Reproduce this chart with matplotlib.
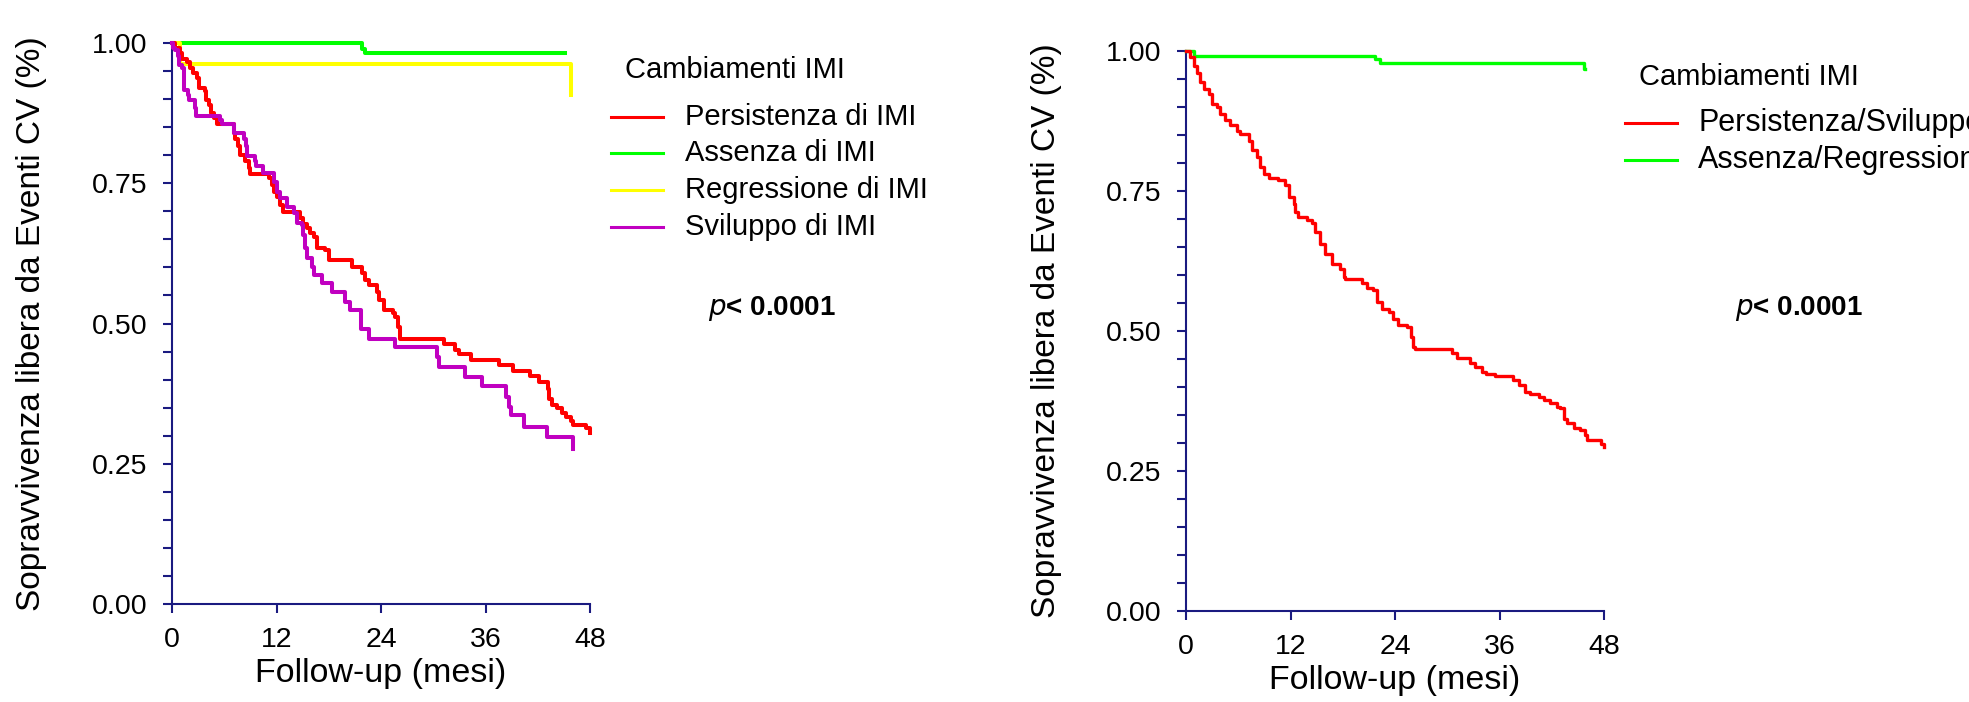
import matplotlib
matplotlib.use("Agg")
import matplotlib.pyplot as plt
from matplotlib.lines import Line2D
from matplotlib.ticker import MultipleLocator

plt.rcParams['font.family'] = ['Liberation Sans', 'DejaVu Sans']

# ---------------- data (left panel: 4 groups) ----------------
persist_t = [0, 0.38, 0.96, 1.15, 1.72, 2.03, 2.41, 2.87, 3.06, 3.83, 3.9, 4.21, 4.48, 4.78, 5.2,
             7.08, 7.27, 7.54, 7.85, 8.42, 8.80, 8.99, 11.1, 11.5, 11.7, 12.1, 12.4, 12.7,
             14.7, 15.1, 15.5, 15.9, 16.3, 16.6, 17.6, 18.0, 20.7, 21.8, 22.2, 22.6, 23.5,
             23.8, 24.3, 25.4, 25.6, 26.0, 26.2, 31.2, 32.5, 32.9, 34.3, 37.5, 39.2, 41.1,
             42.1, 43.2, 43.3, 43.6, 44.2, 44.8, 45.3, 45.8, 46.0, 47.5, 48.0]
persist_s = [1.0, 0.991, 0.982, 0.971, 0.966, 0.956, 0.947, 0.938, 0.920, 0.914, 0.899, 0.890, 0.875, 0.867, 0.855,
             0.840, 0.828, 0.816, 0.801, 0.789, 0.777, 0.767, 0.759, 0.747, 0.735, 0.726, 0.712, 0.698,
             0.688, 0.678, 0.670, 0.661, 0.654, 0.634, 0.631, 0.613, 0.601, 0.590, 0.577, 0.569, 0.557,
             0.542, 0.524, 0.518, 0.512, 0.494, 0.473, 0.464, 0.453, 0.446, 0.435, 0.426, 0.416, 0.406,
             0.396, 0.384, 0.366, 0.355, 0.349, 0.340, 0.334, 0.327, 0.319, 0.313, 0.304]

absent_t = [0, 21.8, 22.2, 45.1]
absent_s = [1.0, 0.990, 0.982, 0.982]

regress_t = [0, 0.95, 45.8, 45.85]
regress_s = [1.0, 0.963, 0.908, 0.908]

develop_t = [0, 0.1, 0.38, 0.65, 0.77, 1.15, 1.34, 1.42, 1.80, 1.91, 2.68, 2.75, 5.55, 5.74, 7.08, 7.15,
             8.23, 8.53, 8.61, 9.57, 9.68, 10.5, 11.7, 12.0, 12.4, 13.2, 14.05, 14.35, 14.9, 15.1,
             15.3, 15.5, 16.1, 16.3, 17.2, 18.4, 19.9, 20.4, 21.7, 22.6, 25.6, 30.4, 30.7, 33.7,
             35.6, 38.3, 38.7, 38.9, 40.4, 43.1, 46.0]
develop_s = [1.0, 0.991, 0.988, 0.976, 0.961, 0.955, 0.940, 0.916, 0.908, 0.899, 0.884, 0.869, 0.863, 0.856, 0.848, 0.840,
             0.828, 0.816, 0.798, 0.789, 0.780, 0.768, 0.753, 0.735, 0.723, 0.708, 0.697, 0.679, 0.676, 0.658,
             0.634, 0.616, 0.601, 0.587, 0.572, 0.557, 0.539, 0.524, 0.491, 0.473, 0.459, 0.441, 0.423, 0.405,
             0.388, 0.369, 0.351, 0.337, 0.316, 0.298, 0.277]

# ---------------- data (right panel: 2 groups) ----------------
ps_t = [0, 0.5, 0.88, 1.26, 1.65, 2.03, 2.6, 2.98, 3.55, 3.94, 4.5, 5.1, 5.85, 6.2, 7.2, 7.6, 8.1,
        8.5, 8.9, 9.5, 10.6, 11.4, 11.8, 12.4, 12.5, 12.9, 13.9, 14.45, 14.85, 15.4, 16.0, 16.8,
        17.7, 18.1, 18.3, 20.2, 20.8, 21.5, 21.9, 22.5, 23.3, 23.8, 24.4, 25.4, 25.8, 26.1, 26.3,
        30.5, 31.1, 32.6, 33.2, 34.0, 34.4, 35.5, 37.6, 38.2, 38.9, 39.5, 40.5, 41.1, 41.8, 42.6,
        43.0, 43.35, 43.7, 44.5, 45.3, 45.8, 46.0, 47.6, 48.0]
ps_s = [1.0, 0.989, 0.974, 0.960, 0.945, 0.933, 0.924, 0.906, 0.900, 0.888, 0.876, 0.867, 0.858, 0.852, 0.840, 0.823, 0.811,
        0.793, 0.781, 0.774, 0.769, 0.760, 0.739, 0.727, 0.713, 0.704, 0.699, 0.692, 0.677, 0.656, 0.638, 0.620,
        0.611, 0.596, 0.592, 0.585, 0.576, 0.573, 0.552, 0.540, 0.534, 0.522, 0.510, 0.507, 0.489, 0.471, 0.468,
        0.460, 0.451, 0.442, 0.436, 0.427, 0.424, 0.419, 0.412, 0.403, 0.391, 0.388, 0.382, 0.376, 0.371, 0.365,
        0.363, 0.343, 0.335, 0.326, 0.323, 0.314, 0.305, 0.299, 0.292]

ar_t = [0, 0.9, 21.7, 22.3, 45.7, 45.8]
ar_s = [1.0, 0.991, 0.985, 0.979, 0.968, 0.968]

left_labels = ["Persistenza di IMI", "Assenza di IMI", "Regressione di IMI", "Sviluppo di IMI"]
right_labels = ["Persistenza/Sviluppo", "Assenza/Regressione"]
legend_title = "Cambiamenti IMI"
p_text = "< 0.0001"
xlabel = "Follow-up (mesi)"
ylabel = "Sopravvivenza libera da Eventi CV (%)"
xticks = [0, 12, 24, 36, 48]
yticks = [0.0, 0.25, 0.50, 0.75, 1.00]

RED = "#ff0000"
GREEN = "#00ff00"
YELLOW = "#ffff00"
PURPLE = "#c000c0"
AXC = "#1a1a80"

W, H = 1969, 702
fig = plt.figure(figsize=(W / 100, H / 100), dpi=100)
fig.patch.set_facecolor("white")


def px_axes(x0, x1, ytop, ybot):
    return fig.add_axes([x0 / W, 1 - ybot / H, (x1 - x0) / W, (ybot - ytop) / H])


def style(ax):
    ax.set_xlim(0, 48)
    ax.set_ylim(0, 1)
    for s in ("top", "right"):
        ax.spines[s].set_visible(False)
    for s in ("left", "bottom"):
        ax.spines[s].set_color(AXC)
        ax.spines[s].set_linewidth(1.5)
    ax.set_xticks(xticks)
    ax.set_xticklabels([str(v) for v in xticks])
    ax.set_yticks(yticks)
    ax.set_yticklabels(["%.2f" % v for v in yticks])
    ax.yaxis.set_minor_locator(MultipleLocator(0.05))
    ax.tick_params(axis="both", which="both", direction="out", length=6.5, width=1.5,
                   color=AXC, labelsize=20.5, labelcolor="black")
    ax.tick_params(axis="y", which="major", pad=11)
    ax.tick_params(axis="x", which="major", pad=10)
    ax.set_xlabel(xlabel, fontsize=24.5, labelpad=4)
    ax.set_ylabel(ylabel, fontsize=24, labelpad=18)


def legend(x_line0, x_line1, x_text, x_title, y_title, ys, labels, colors, fs):
    fig.text(x_title / W, 1 - y_title / H, legend_title, fontsize=21, va="center", ha="left")
    for y, lab, c in zip(ys, labels, colors):
        fig.add_artist(Line2D([x_line0 / W, x_line1 / W], [1 - y / H, 1 - y / H],
                              color=c, lw=2.2, transform=fig.transFigure))
        fig.text(x_text / W, 1 - y / H, lab, fontsize=fs, va="center", ha="left")


def ptext(x, y):
    fig.text(x / W, 1 - y / H, r"$\bf{\it{p}}$" + p_text, fontsize=20, fontweight="bold",
             va="center", ha="left")


# ---------------- left panel ----------------
ax1 = px_axes(172, 590, 43, 604)
style(ax1)
ax1.yaxis.set_label_coords((47 - 172) / 418, 0.5)
for t, s, c in [(absent_t, absent_s, GREEN), (regress_t, regress_s, YELLOW),
                (persist_t, persist_s, RED), (develop_t, develop_s, PURPLE)]:
    ax1.plot(t, s, drawstyle="steps-post", color=c, lw=2.9, clip_on=False, zorder=3)
legend(611, 663, 685, 625, 70, [117, 153, 190, 227], left_labels, [RED, GREEN, YELLOW, PURPLE], 21)
ptext(708, 308)

# ---------------- right panel ----------------
ax2 = px_axes(1186, 1604, 51, 611)
style(ax2)
ax2.yaxis.set_label_coords((1062 - 1186) / 418, 0.5)
ax2.plot(ar_t, ar_s, drawstyle="steps-post", color=GREEN, lw=2.4, clip_on=False, zorder=3)
ax2.plot(ps_t, ps_s, drawstyle="steps-post", color=RED, lw=2.4, clip_on=False, zorder=3)
legend(1625, 1677, 1698, 1639, 77, [123, 160], right_labels, [RED, GREEN], 22)
ptext(1735, 308)

fig.savefig("out.png", dpi=100, facecolor="white")
